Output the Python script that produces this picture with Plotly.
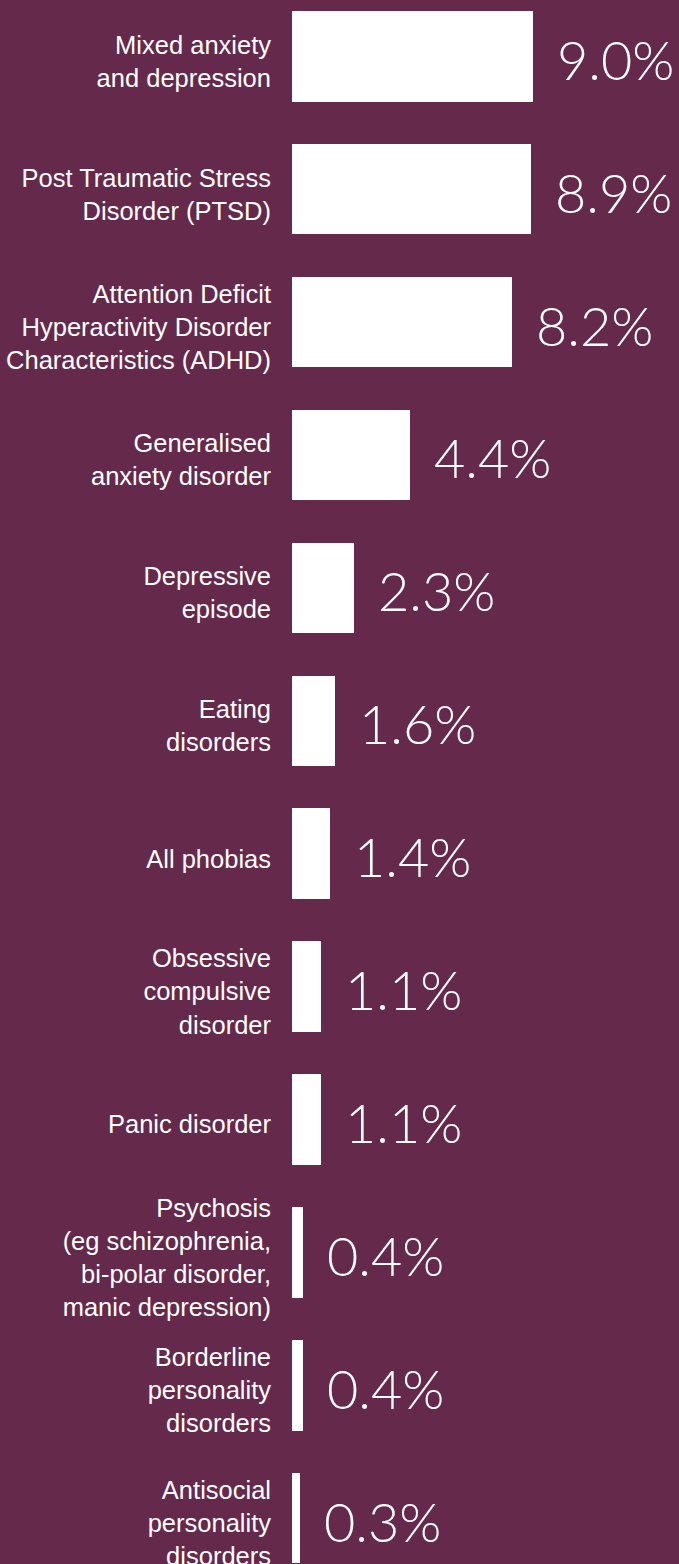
import plotly.graph_objects as go

categories = [
    "Mixed anxiety<br>and depression",
    "Post Traumatic Stress<br>Disorder (PTSD)",
    "Attention Deficit<br>Hyperactivity Disorder<br>Characteristics (ADHD)",
    "Generalised<br>anxiety disorder",
    "Depressive<br>episode",
    "Eating<br>disorders",
    "All phobias",
    "Obsessive<br>compulsive<br>disorder",
    "Panic disorder",
    "Psychosis<br>(eg schizophrenia,<br>bi-polar disorder,<br>manic depression)",
    "Borderline<br>personality<br>disorders",
    "Antisocial<br>personality<br>disorders",
]
values = [9.0, 8.9, 8.2, 4.4, 2.3, 1.6, 1.4, 1.1, 1.1, 0.4, 0.4, 0.3]
value_labels = ["9.0%", "8.9%", "8.2%", "4.4%", "2.3%", "1.6%", "1.4%",
                "1.1%", "1.1%", "0.4%", "0.4%", "0.3%"]

BG = "#65294C"
W, H = 679, 1564
positions = list(range(len(categories)))

fig = go.Figure(go.Bar(
    x=values,
    y=positions,
    orientation="h",
    width=0.681,
    marker=dict(color="white", line=dict(width=0)),
    hoverinfo="skip",
))

for v, p, t in zip(values, positions, value_labels):
    fig.add_annotation(
        x=v, y=p, xref="x", yref="y",
        text=t, showarrow=False,
        xanchor="left", yanchor="middle",
        xshift=22, yshift=-3,
        font=dict(family="Lato", size=54, color="white", weight=300),
    )

px_per_unit = 132.9
c0 = 56.25
label_shift = 5 / px_per_unit
fig.update_layout(
    width=W, height=H,
    paper_bgcolor=BG, plot_bgcolor=BG,
    margin=dict(l=292, r=0, t=0, b=0, autoexpand=False),
    showlegend=False,
    bargap=0,
    xaxis=dict(range=[0, 387 / 26.8], visible=False, fixedrange=True),
    yaxis=dict(
        range=[(H - c0) / px_per_unit, -c0 / px_per_unit],
        tickmode="array",
        tickvals=[p + label_shift for p in positions],
        ticktext=categories,
        showgrid=False, zeroline=False, showline=False,
        ticks="", ticklabelstandoff=20,
        ticklabeloverflow="allow",
        tickfont=dict(family="Liberation Sans, Arial, sans-serif", size=25.5, color="white"),
        automargin=False,
        fixedrange=True,
    ),
)

fig.write_html(
    "out.html",
    config={"displayModeBar": False, "staticPlot": True},
    post_script="document.body.style.margin='0';document.body.style.overflow='hidden';",
)
